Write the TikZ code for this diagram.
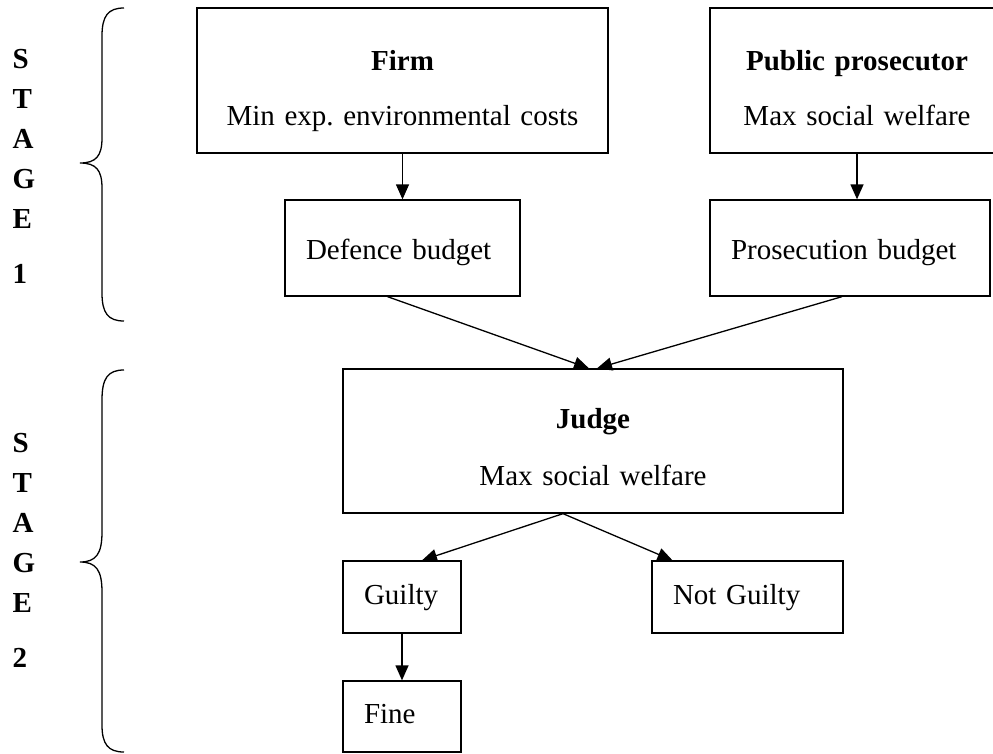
\documentclass[tikz,border=0pt]{standalone}
\usepackage{fontspec}
\setmainfont{Liberation Serif}
\usepackage{tikz}
\usetikzlibrary{arrows.meta}
\frenchspacing

\tikzset{
  titlebox/.style={draw, line width=1.3pt, inner xsep=10pt, inner ysep=0pt,
    align=center, text height=19pt, text depth=40pt},
  onebox/.style={draw, line width=1.3pt, inner xsep=21pt, inner ysep=0pt,
    align=left, text height=20pt, text depth=6pt},
  budgetbox/.style={onebox, text height=28pt},
  stagetxt/.style={font=\fontsize{29}{34}\selectfont\bfseries, inner sep=0pt, anchor=base west}
}

\begin{document}
\begin{tikzpicture}[x=1pt, y=-1pt, font=\fontsize{29}{34}\selectfont,
  >={Triangle[length=15pt,width=13pt]}, line width=1.3pt]
          \useasboundingbox (0,0) rectangle (993,753);
          % stage 1
          \node[titlebox, text width=391pt, minimum height=145pt] (firm) at (402.5,80.5) {\textbf{Firm}\\[21pt]Min exp. environmental costs};
          \node[titlebox, text width=274pt, minimum height=145pt] (public) at (857,80.5) {\textbf{Public prosecutor}\\[21pt]Max social welfare};
          \node[budgetbox, text width=193pt, minimum height=96pt] (defence) at (402.5,248) {Defence budget};
          \node[budgetbox, text width=238pt, minimum height=96pt] (prosecution) at (850,248) {Prosecution budget};
          % stage 2
          \node[titlebox, text width=480pt, minimum height=144pt, text depth=45pt] (judge) at (593,441) {\textbf{Judge}\\[23pt]Max social welfare};
          \node[onebox, text width=76pt, minimum height=72pt] (guilty) at (402,597) {Guilty};
          \node[onebox, text width=149pt, minimum height=72pt] (notguilty) at (747.5,597) {Not Guilty};
          \node[onebox, text width=76pt, minimum height=71pt] (fine) at (402,716.5) {Fine};
          \draw[->] (firm) -- (defence);
          \draw[->] (public.south) -- (public.south |- prosecution.north);
          \draw[->] ([xshift=-15pt]defence.south) -- ([xshift=-4pt]judge.north);
          \draw[->] ([xshift=-8pt]prosecution.south) -- ([xshift=4pt]judge.north);
          \draw[->] ([xshift=-30pt]judge.south) -- ([xshift=20pt]guilty.north);
          \draw[->] ([xshift=-30pt]judge.south) -- ([xshift=-75pt]notguilty.north);
          \draw[->] (guilty) -- (fine);
          % braces
          \draw (124,8) .. controls (108,8) and (102,16) .. (102,36) -- (102,138)
            .. controls (102,156) and (96,163) .. (80,163)
            .. controls (96,163) and (102,170) .. (102,188) -- (102,293)
            .. controls (102,313) and (108,321) .. (124,321);
          \draw (124,370) .. controls (108,370) and (102,378) .. (102,400) -- (102,532)
            .. controls (102,554) and (96,562) .. (80,562)
            .. controls (96,562) and (102,570) .. (102,592) -- (102,725)
            .. controls (102,744) and (108,752) .. (124,752);
          \foreach \ch/\y in {S/68,T/108,A/148,G/188,E/228,1/283}
            \node[stagetxt] (one\ch) at (12,\y) {\ch};
          \foreach \ch/\y in {S/452,T/492,A/532,G/572,E/612,2/667}
            \node[stagetxt] (two\ch) at (12,\y) {\ch};
        \end{tikzpicture}
\end{document}
